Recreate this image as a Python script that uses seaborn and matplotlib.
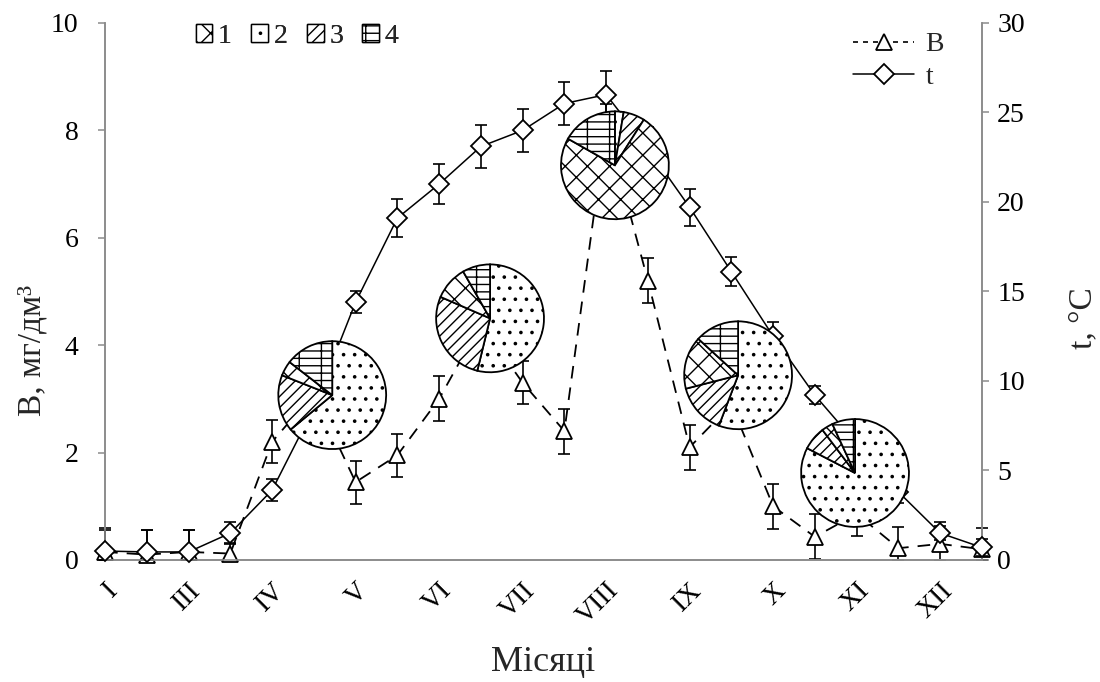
import matplotlib
matplotlib.use("Agg")
import matplotlib.pyplot as plt
import seaborn as sns
import pandas as pd
from matplotlib.patches import Patch
from matplotlib.lines import Line2D

sns.set_style("white")
plt.rcParams['font.family'] = ['Liberation Serif', 'DejaVu Serif']
plt.rcParams['hatch.color'] = 'black'

# render at higher dpi so hatch spacing is closer to the original;
# k converts "100 dpi points" to real points
DPI = 400 / 3
k = 100 / DPI
plt.rcParams['hatch.linewidth'] = 1.0 * k

# data: 22 points (twice a month), labels on every second tick
pos = list(range(22))
month_labels = ['I', 'III', 'IV', 'V', 'VI', 'VII', 'VIII', 'IX', 'X', 'XI', 'XII']
b_vals = [0.15, 0.1, 0.15, 0.12, 2.2, 3.1, 1.45, 1.95, 3.0, 4.4, 3.3,
          2.4, 8.1, 5.2, 2.1, 2.9, 1.0, 0.43, 0.86, 0.22, 0.3, 0.2]
b_err = [0.45, 0.45, 0.4, 0.2, 0.4, 0.4, 0.4, 0.4, 0.42, 0.4, 0.4,
         0.42, 0.4, 0.42, 0.42, 0.4, 0.42, 0.42, 0.42, 0.4, 0.4, 0.4]
t_vals = [0.5, 0.45, 0.45, 1.5, 3.9, 8.5, 14.4, 19.1, 21.0, 23.1, 24.0,
          25.5, 26.0, 23.0, 19.7, 16.1, 12.5, 9.2, 6.5, 3.8, 1.5, 0.7]
t_err = [1.2, 1.2, 1.2, 0.6, 0.6, 0.8, 0.6, 1.05, 1.1, 1.2, 1.2,
         1.2, 1.3, 1.2, 1.05, 0.8, 0.8, 0.5, 0.6, 0.6, 0.4, 0.5]

# pie shares (%), one value per pie
share_1 = [4.5, 10.2, 74.2, 15.8, 3.4]
share_2 = [64.0, 53.8, 2.6, 55.8, 82.6]
share_3 = [17.0, 27.7, 6.4, 15.2, 7.1]
share_4 = [14.5, 8.3, 16.8, 13.2, 6.9]
group_labels = ['1', '2', '3', '4']

# pie layout (data coords of left axis) and look
pie_x = [5.44, 9.22, 12.21, 15.16, 17.96]
pie_y = [3.07, 4.5, 7.35, 3.44, 1.62]
pie_r_px = 55
hatches = {'1': 'xx', '2': '..', '3': '////', '4': '---|'}

fig = plt.figure(figsize=(1100 / DPI, 682 / DPI), dpi=DPI)
fig.subplots_adjust(left=0.0955, right=0.8927, bottom=0.1789, top=0.9663)
ax = fig.add_subplot(111)
ax2 = ax.twinx()

df = pd.DataFrame({'pos': pos, 'B': b_vals, 't': t_vals})

# error bars stop at the x axis
b_low = [min(e, v) for e, v in zip(b_err, b_vals)]
t_low = [min(e, v) for e, v in zip(t_err, t_vals)]

ax.errorbar(pos, b_vals, yerr=[b_low, b_err], fmt='none', ecolor='black',
            elinewidth=1.2 * k, capsize=4.5 * k, capthick=1.2 * k, zorder=2, clip_on=False)
sns.lineplot(data=df, x='pos', y='B', ax=ax, color='black', linestyle=(0, (7, 5)),
             linewidth=1.3 * k, marker='^', markersize=12 * k, markerfacecolor='white',
             markeredgecolor='black', markeredgewidth=1.3 * k, clip_on=False, zorder=3)

ax2.errorbar(pos, t_vals, yerr=[t_low, t_err], fmt='none', ecolor='black',
             elinewidth=1.2 * k, capsize=4.5 * k, capthick=1.2 * k, zorder=2, clip_on=False)
sns.lineplot(data=df, x='pos', y='t', ax=ax2, color='black', linestyle='-',
             linewidth=1.1 * k, marker='D', markersize=10 * k, markerfacecolor='white',
             markeredgecolor='black', markeredgewidth=1.3 * k, clip_on=False, zorder=3)

ax.set_xlim(0, 21)
ax.set_ylim(0, 10)
ax2.set_ylim(0, 30)
ax.set_yticks([0, 2, 4, 6, 8, 10])
ax2.set_yticks([0, 5, 10, 15, 20, 25, 30])
ax.set_xticks(pos)
xt = []
for i in pos:
    xt.append(month_labels[i // 2] if i % 2 == 0 and i // 2 < len(month_labels) else '')
ax.set_xticklabels(xt, rotation=45, ha='right', rotation_mode='anchor')

for a in (ax, ax2):
    for s in a.spines.values():
        s.set_color('#8c8c8c')
        s.set_linewidth(1.2 * k)
    a.spines['top'].set_visible(False)
    a.tick_params(axis='both', which='both', direction='out', length=5 * k,
                  width=1.1 * k, color='#8c8c8c', labelsize=20 * k, labelcolor='black')
ax.tick_params(axis='x', pad=8 * k)
ax.tick_params(axis='y', pad=14 * k)
ax2.tick_params(axis='y', pad=6 * k)
ax.set_xlabel('Місяці', fontsize=26 * k, labelpad=12 * k)
ax.set_ylabel('В, мг/дм³', fontsize=24 * k)
ax2.set_ylabel('t, °C', fontsize=24 * k)
ax.yaxis.set_label_coords(-0.066, 0.39)
ax2.yaxis.set_label_coords(1.098, 0.45)
ax2.set_xlabel('')

# legends
pie_handles = [Patch(facecolor='white', edgecolor='black', linewidth=1.0 * k, hatch=hatches[g])
               for g in group_labels]
leg1 = ax.legend(pie_handles, group_labels, loc='upper left', bbox_to_anchor=(0.075, 1.045),
                 ncol=4, frameon=False, fontsize=20 * k, handlelength=0.6, handleheight=0.6,
                 handletextpad=0.2, columnspacing=0.7)
ax.add_artist(leg1)
line_handles = [
    Line2D([], [], color='black', linewidth=1.2 * k, linestyle=(0, (3, 3)), marker='^',
           markersize=12 * k, markerfacecolor='white', markeredgecolor='black',
           markeredgewidth=1.3 * k),
    Line2D([], [], color='black', linewidth=1.1 * k, linestyle='-', marker='D',
           markersize=10 * k, markerfacecolor='white', markeredgecolor='black',
           markeredgewidth=1.3 * k),
]
ax2.legend(line_handles, ['B', 't'], loc='upper right', bbox_to_anchor=(0.985, 1.03),
           frameon=False, fontsize=20 * k, handlelength=2.2, handletextpad=0.4, labelspacing=0.25)

# pies on top of the lines
fig.canvas.draw()
inv = fig.transFigure.inverted()
rw = pie_r_px / fig.bbox.width
rh = pie_r_px / fig.bbox.height
for i in range(len(pie_x)):
    cx, cy = inv.transform(ax.transData.transform((pie_x[i], pie_y[i])))
    pax = fig.add_axes([cx - rw, cy - rh, 2 * rw, 2 * rh])
    vals = [share_2[i], share_3[i], share_1[i], share_4[i]]
    order = ['2', '3', '1', '4']
    wedges, _ = pax.pie(vals, startangle=90, counterclock=False, radius=1,
                        colors=['white'] * 4,
                        wedgeprops=dict(edgecolor='black', linewidth=1.3 * k))
    for w, g in zip(wedges, order):
        w.set_hatch(hatches[g])
    pax.set_xlim(-1.02, 1.02)
    pax.set_ylim(-1.02, 1.02)
    pax.set_aspect('equal')
    pax.axis('off')

fig.savefig('out.png', dpi=DPI)
